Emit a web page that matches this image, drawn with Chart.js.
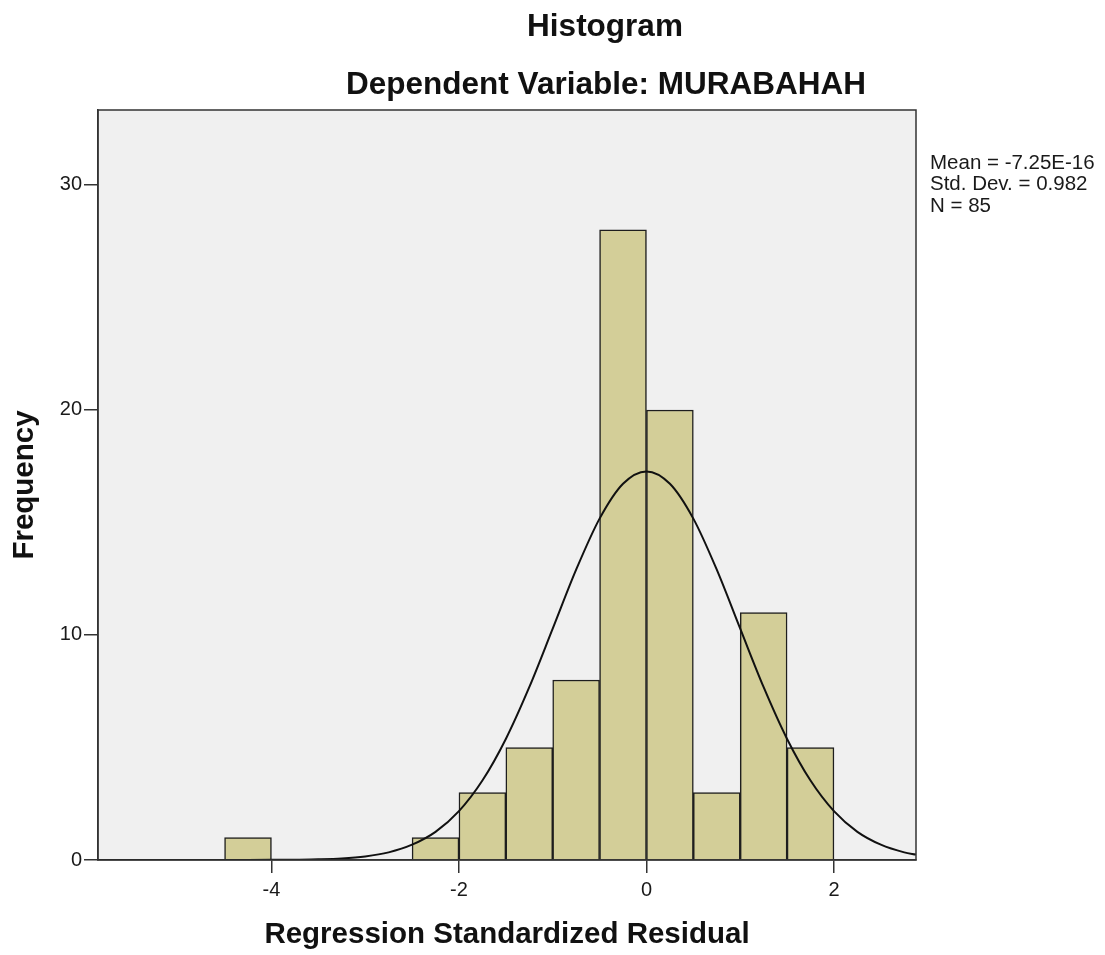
<!DOCTYPE html>
<html><head><meta charset="utf-8">
<script src="https://cdn.jsdelivr.net/npm/chart.js@4.4.1/dist/chart.umd.min.js"></script>
<style>html,body{margin:0;padding:0;background:#fff;}#wrap{width:1105px;height:955px;}</style>
</head><body><div id="wrap"><canvas id="c" width="1105" height="955"></canvas></div>
<script>
const binCenters = [-4.25, -2.25, -1.75, -1.25, -0.75, -0.25, 0.25, 0.75, 1.25, 1.75];
const frequencies = [1, 1, 3, 5, 8, 28, 20, 3, 11, 5];
const curveX = [-5.85, -5.5, -5, -4.5, -4, -3.75, -3.5, -3.25, -3, -2.75, -2.5, -2.25, -2, -1.75, -1.5, -1.25, -1, -0.75, -0.5, -0.25, 0, 0.25, 0.5, 0.75, 1, 1.25, 1.5, 1.75, 2, 2.25, 2.5, 2.75, 2.875];
const curveY = [0, 0, 0, 0, 0.01, 0.01, 0.03, 0.07, 0.16, 0.34, 0.68, 1.25, 2.17, 3.53, 5.38, 7.68, 10.28, 12.9, 15.17, 16.72, 17.27, 16.72, 15.17, 12.9, 10.28, 7.68, 5.38, 3.53, 2.17, 1.25, 0.68, 0.34, 0.24];
const xTicks = [-4, -2, 0, 2];
const yTicks = [0, 10, 20, 30];
const titleText = 'Histogram';
const subtitleText = 'Dependent Variable: MURABAHAH';
const xTitle = 'Regression Standardized Residual';
const yTitle = 'Frequency';
const statsLines = ['Mean = -7.25E-16', 'Std. Dev. = 0.982', 'N = 85'];

const FONT = 'Arial, "Liberation Sans", sans-serif';
Chart.defaults.font.family = FONT;

const decor = {
  id: 'decor',
  beforeDraw(chart) {
    const {ctx, chartArea: a} = chart;
    ctx.save();
    ctx.fillStyle = '#ffffff';
    ctx.fillRect(0, 0, chart.width, chart.height);
    ctx.fillStyle = '#f0f0f0';
    ctx.fillRect(a.left, a.top, a.right - a.left, a.bottom - a.top);
    ctx.restore();
  },
  afterDraw(chart) {
    const {ctx, chartArea: a} = chart;
    ctx.save();
    ctx.strokeStyle = '#333333';
    ctx.lineWidth = 1.5;
    ctx.strokeRect(a.left, a.top, a.right - a.left, a.bottom - a.top);
    ctx.fillStyle = '#111111';
    ctx.textAlign = 'center';
    ctx.textBaseline = 'middle';
    ctx.font = 'bold 31.5px ' + FONT;
    ctx.fillText(titleText, 605, 27);
    ctx.fillText(subtitleText, 606, 85);
    ctx.textAlign = 'left';
    ctx.font = '20.5px ' + FONT;
    ctx.fillStyle = '#1a1a1a';
    statsLines.forEach((t, i) => ctx.fillText(t, 930, 163 + i * 21.5));
    ctx.restore();
  }
};

new Chart(document.getElementById('c'), {
  type: 'bar',
  data: {
    datasets: [
      {
        type: 'line',
        data: curveX.map((x, i) => ({x: x, y: curveY[i]})),
        borderColor: '#111111',
        borderWidth: 2,
        pointRadius: 0,
        fill: false,
        cubicInterpolationMode: 'monotone',
        order: 0
      },
      {
        type: 'bar',
        data: binCenters.map((x, i) => ({x: x, y: frequencies[i]})),
        backgroundColor: '#d3ce98',
        borderColor: '#1e1e1e',
        borderWidth: 1.5,
        barPercentage: 1,
        categoryPercentage: 1,
        order: 1
      }
    ]
  },
  options: {
    responsive: false,
    animation: false,
    devicePixelRatio: 1,
    layout: {padding: {top: 110, right: 189, bottom: 0, left: 0}},
    plugins: {legend: {display: false}, tooltip: {enabled: false}, title: {display: false}},
    scales: {
      x: {
        type: 'linear',
        offset: false,
        min: -5.85,
        max: 2.875,
        afterBuildTicks: s => { s.ticks = xTicks.map(v => ({value: v})); },
        afterFit: s => { s.height = 95; },
        grid: {offset: false, drawOnChartArea: false, drawTicks: true, tickLength: 13, color: '#333333', lineWidth: 1.5},
        border: {display: true, color: '#333333', width: 1.5},
        ticks: {font: {size: 20}, color: '#1a1a1a', padding: 5, maxRotation: 0, autoSkip: false},
        title: {display: true, text: xTitle, color: '#111111', font: {size: 29.5, weight: 'bold', lineHeight: 1.2}, padding: {top: 0, bottom: 2}}
      },
      y: {
        min: 0,
        max: 33.33,
        afterBuildTicks: s => { s.ticks = yTicks.map(v => ({value: v})); },
        afterFit: s => { s.width = 98; },
        grid: {drawOnChartArea: false, drawTicks: true, tickLength: 14, color: '#333333', lineWidth: 1.5},
        border: {display: true, color: '#333333', width: 1.5},
        ticks: {font: {size: 20}, color: '#1a1a1a', padding: 2, autoSkip: false},
        title: {display: true, text: yTitle, color: '#111111', font: {size: 29.5, weight: 'bold', lineHeight: 1.2}, padding: {top: 7, bottom: 0}}
      }
    }
  },
  plugins: [decor]
});
</script>
</body></html>
